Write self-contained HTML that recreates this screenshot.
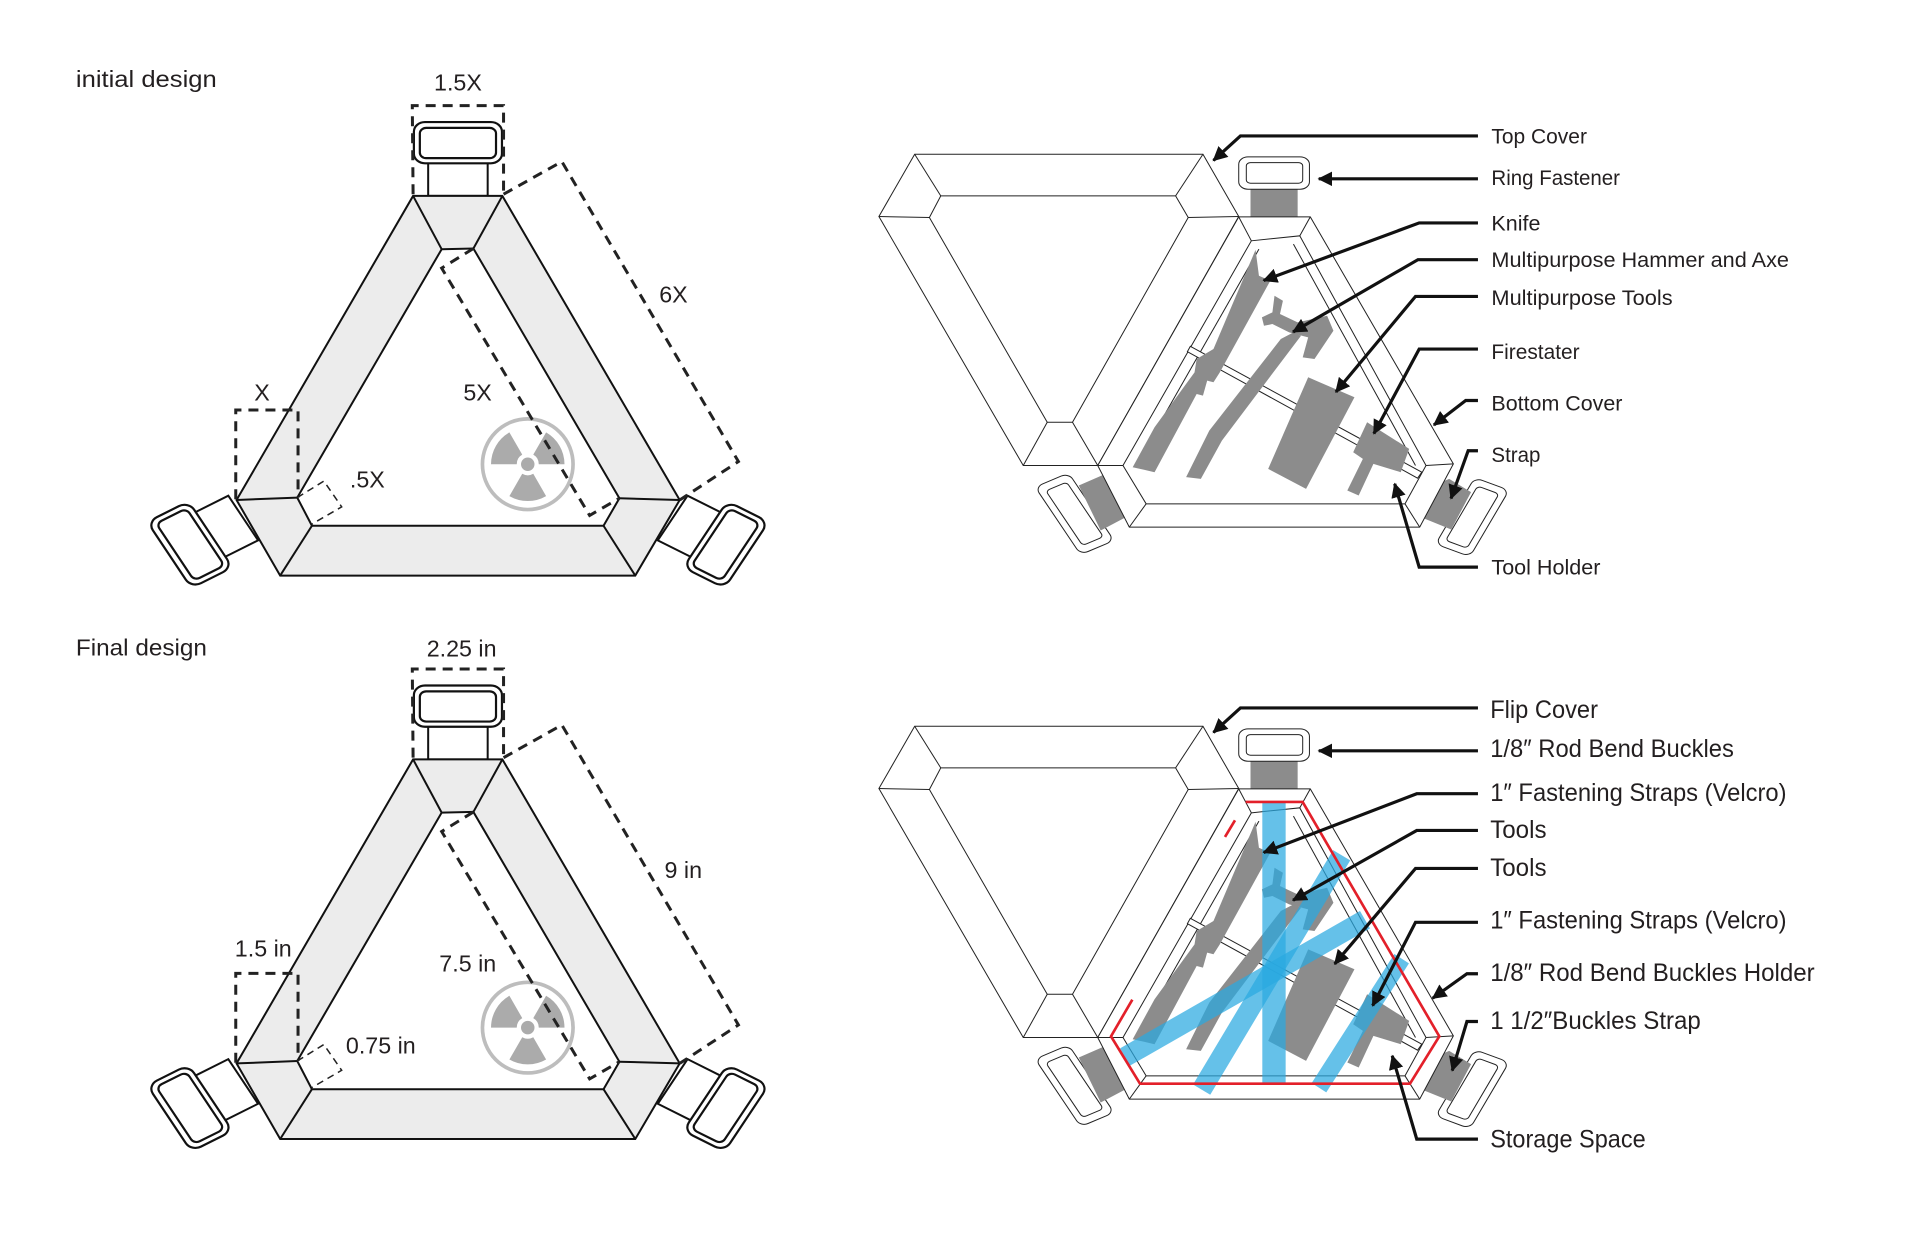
<!DOCTYPE html>
<html><head><meta charset="utf-8"><style>
html,body{margin:0;padding:0;background:#fff;width:1920px;height:1242px;overflow:hidden}
svg{display:block}
text{font-family:"Liberation Sans",sans-serif;fill:#231f20}
</style></head><body>
<svg width="1920" height="1242" viewBox="0 0 1568 1014" preserveAspectRatio="none" xmlns="http://www.w3.org/2000/svg">
<defs>
<marker id="ah" markerUnits="userSpaceOnUse" markerWidth="14" markerHeight="14" refX="11" refY="6" orient="auto">
<path d="M0,0 L12,6 L0,12 Z" fill="#111"/></marker>
<g id="ring">
<rect x="678" y="225" width="150" height="110" fill="#fff" stroke="#111" stroke-width="2" vector-effect="non-scaling-stroke"/>
<rect x="642" y="120" width="222" height="120" rx="28" fill="#fff" stroke="#111" stroke-width="2.2" vector-effect="non-scaling-stroke"/>
<rect x="657" y="137" width="192" height="88" rx="16" fill="#fff" stroke="#111" stroke-width="2.2" vector-effect="non-scaling-stroke"/>
</g>
<g id="left">
<g transform="translate(130,66) scale(0.324,0.2805)" stroke="#111" stroke-width="2" fill="none">
<use href="#ring"/>
<use href="#ring" transform="rotate(-120 753 960)"/>
<use href="#ring" transform="rotate(120 753 960)"/>
<polygon points="640,335 865,335 1312,1220 1200,1440 305,1440 195,1220" fill="#ececec" vector-effect="non-scaling-stroke"/>
<polygon points="712,490 792,488 1160,1215 1120,1295 385,1295 348,1213" fill="#fff" vector-effect="non-scaling-stroke"/>
<g>
<line x1="640" y1="335" x2="712" y2="490" vector-effect="non-scaling-stroke"/>
<line x1="865" y1="335" x2="792" y2="488" vector-effect="non-scaling-stroke"/>
<line x1="1312" y1="1220" x2="1160" y2="1215" vector-effect="non-scaling-stroke"/>
<line x1="1200" y1="1440" x2="1120" y2="1295" vector-effect="non-scaling-stroke"/>
<line x1="305" y1="1440" x2="385" y2="1295" vector-effect="non-scaling-stroke"/>
<line x1="195" y1="1220" x2="348" y2="1213" vector-effect="non-scaling-stroke"/>
</g>
</g>
<circle cx="431" cy="379" r="37" fill="#fff" stroke="#bdbdbd" stroke-width="3"/>
<g fill="#ababab">
<path d="M435.5,386.8 L446,405 A30,30 0 0 1 416,405 L426.5,386.8 A9,9 0 0 0 435.5,386.8Z"/>
<path d="M435.5,371.2 L446,353 A30,30 0 0 1 461,379 L440,379 A9,9 0 0 0 435.5,371.2Z"/>
<path d="M422,379 L401,379 A30,30 0 0 1 416,353 L426.5,371.2 A9,9 0 0 0 422,379Z"/>
<circle cx="431" cy="379" r="5.5"/>
</g>
<g transform="translate(130,66) scale(0.324,0.2805)" fill="none" stroke="#222">
<polyline points="640,330 638,72 868,72 868,330" stroke-width="3" stroke-dasharray="10 7" vector-effect="non-scaling-stroke"/>
<polyline points="868,330 1015,235 1460,1108 1312,1220" stroke-width="3" stroke-dasharray="10 7" vector-effect="non-scaling-stroke"/>
<polyline points="792,488 712,545 1085,1265 1160,1215" stroke-width="3" stroke-dasharray="10 7" vector-effect="non-scaling-stroke"/>
<polyline points="193,1218 193,958 350,958 350,1213" stroke-width="3" stroke-dasharray="10 7" vector-effect="non-scaling-stroke"/>
<polyline points="348,1213 415,1165 460,1240 385,1290" stroke-width="1.5" stroke-dasharray="7 5" vector-effect="non-scaling-stroke"/>
</g>
</g>

<g id="right">
<g transform="translate(702.3,97.4) scale(0.3437,0.2718)" stroke="#222" fill="#fff">
<g stroke-width="1" >
<polygon points="130,105 815,105 900,292 565,1040 388,1040 45,292" vector-effect="non-scaling-stroke"/>
<polygon points="192,230 750,230 780,295 505,910 445,910 165,295" vector-effect="non-scaling-stroke"/>
<polyline points="130,105 192,230" vector-effect="non-scaling-stroke"/>
<polyline points="815,105 750,230" vector-effect="non-scaling-stroke"/>
<polyline points="900,292 780,295" vector-effect="non-scaling-stroke"/>
<polyline points="565,1040 505,910" vector-effect="non-scaling-stroke"/>
<polyline points="388,1040 445,910" vector-effect="non-scaling-stroke"/>
<polyline points="45,292 165,295" vector-effect="non-scaling-stroke"/>
</g>
<rect x="928" y="180" width="112" height="115" fill="#8c8c8c" stroke="none"/>
<rect x="900" y="113" width="168" height="97" rx="22" stroke-width="1" vector-effect="non-scaling-stroke"/>
<rect x="918" y="130" width="134" height="62" rx="10" stroke-width="1" vector-effect="non-scaling-stroke"/>
<rect x="465" y="1070" width="90" height="230" rx="20" transform="rotate(-28 510 1185)" stroke-width="1" vector-effect="non-scaling-stroke"/>
<rect x="482" y="1092" width="56" height="186" rx="10" transform="rotate(-28 510 1185)" stroke-width="1" vector-effect="non-scaling-stroke"/>
<rect x="1410" y="1085" width="90" height="220" rx="20" transform="rotate(25 1455 1195)" stroke-width="1" vector-effect="non-scaling-stroke"/>
<rect x="1427" y="1105" width="56" height="180" rx="10" transform="rotate(25 1455 1195)" stroke-width="1" vector-effect="non-scaling-stroke"/>
<polygon points="520,1100 578,1068 632,1195 572,1235" fill="#8c8c8c" stroke="none"/>
<polygon points="1345,1110 1400,1080 1452,1120 1405,1232 1342,1200" fill="#8c8c8c" stroke="none"/>
<g stroke-width="1">
<polygon points="900,293 1070,293 1410,1035 1330,1225 640,1225 565,1040" vector-effect="non-scaling-stroke"/>
<polygon points="930,365 1045,350 1345,1040 1295,1155 680,1155 625,1040" vector-effect="non-scaling-stroke"/>
<polyline points="900,293 930,365" vector-effect="non-scaling-stroke"/>
<polyline points="1070,293 1045,350" vector-effect="non-scaling-stroke"/>
<polyline points="1410,1035 1345,1040" vector-effect="non-scaling-stroke"/>
<polyline points="1330,1225 1295,1155" vector-effect="non-scaling-stroke"/>
<polyline points="640,1225 680,1155" vector-effect="non-scaling-stroke"/>
<polyline points="565,1040 625,1040" vector-effect="non-scaling-stroke"/>
<polyline points="948,390 655,1040" fill="none" vector-effect="non-scaling-stroke"/>
<polyline points="1030,375 1320,1040" fill="none" vector-effect="non-scaling-stroke"/>
<polygon points="785,682 1335,1060 1325,1078 778,698" vector-effect="non-scaling-stroke"/>
</g>
<g fill="#8c8c8c" stroke="none">
<polygon points="940,392 948,470 975,485 855,760 840,790 825,785 815,830 800,825 700,1060 648,1045 700,925 795,760 800,720 840,690"/>
<polygon points="1030,640 1048,650 860,965 810,1080 775,1075 830,935 1000,660"/>
<polygon points="985,530 1005,545 998,585 1040,610 1110,590 1125,635 1080,720 1052,715 1065,655 1020,640 980,615 960,620 955,595 980,580"/>
<polygon points="1065,775 1175,835 1060,1110 970,1050"/>
<polygon points="1205,910 1305,990 1285,1060 1220,1035 1185,1130 1158,1115 1195,1020 1172,1000"/>
</g>
</g>
</g>
</defs>

<use href="#left"/>
<use href="#left" transform="translate(0,460)"/>
<use href="#right"/>
<use href="#right" transform="translate(0,467)"/>

<g transform="translate(882,620.7) scale(0.2722)">
<g stroke="#2aa9e0" stroke-opacity="0.72" fill="none">
<line x1="582" y1="125" x2="582" y2="968" stroke-width="70"/>
<line x1="135" y1="890" x2="855" y2="478" stroke-width="60"/>
<line x1="365" y1="988" x2="785" y2="285" stroke-width="60"/>
<line x1="717" y1="982" x2="965" y2="595" stroke-width="52"/>
</g>
<g stroke="#e3202a" stroke-width="8" fill="none">
<path d="M497,125 L668,125 L1078,828 L990,970 L180,970 L93,828 L157,718"/>
<path d="M465,180 L435,230"/>
</g>
</g>

<g font-size="19">
<text x="62" y="71" textLength="115" lengthAdjust="spacingAndGlyphs">initial design</text>
<text x="62" y="535" textLength="107" lengthAdjust="spacingAndGlyphs">Final design</text>
<text x="374" y="74" text-anchor="middle">1.5X</text>
<text x="550" y="247" text-anchor="middle">6X</text>
<text x="390" y="327" text-anchor="middle">5X</text>
<text x="214" y="327" text-anchor="middle">X</text>
<text x="300" y="398" text-anchor="middle">.5X</text>
<text x="377" y="536" text-anchor="middle">2.25 in</text>
<text x="558" y="717" text-anchor="middle">9 in</text>
<text x="382" y="793" text-anchor="middle">7.5 in</text>
<text x="215" y="781" text-anchor="middle">1.5 in</text>
<text x="311" y="860" text-anchor="middle">0.75 in</text>
</g>

<g stroke="#111" stroke-width="2.6" fill="none" marker-end="url(#ah)">
<polyline points="1207,111 1013,111 991,131"/>
<polyline points="1207,146 1077,146"/>
<polyline points="1207,182 1159,182 1032,229"/>
<polyline points="1207,212 1158,212 1056,271"/>
<polyline points="1207,242 1156,242 1091,320"/>
<polyline points="1207,285 1159,285 1122,354"/>
<polyline points="1207,327 1197,327 1171,347"/>
<polyline points="1207,368 1199,368 1185,407"/>
<polyline points="1207,463 1159,463 1139,395"/>
<polyline points="1207,578 1013,578 991,598"/>
<polyline points="1207,613 1077,613"/>
<polyline points="1207,648 1157,648 1032,696"/>
<polyline points="1207,678 1157,678 1056,735"/>
<polyline points="1207,709 1156,709 1090,787"/>
<polyline points="1207,753 1156,753 1121,821"/>
<polyline points="1207,795 1198,795 1170,815"/>
<polyline points="1207,834 1198,834 1186,874"/>
<polyline points="1207,930 1157,930 1137,862"/>
</g>

<g font-size="17">
<text x="1218" y="117" textLength="78" lengthAdjust="spacingAndGlyphs">Top Cover</text>
<text x="1218" y="151" textLength="105" lengthAdjust="spacingAndGlyphs">Ring Fastener</text>
<text x="1218" y="188" textLength="40" lengthAdjust="spacingAndGlyphs">Knife</text>
<text x="1218" y="218" textLength="243" lengthAdjust="spacingAndGlyphs">Multipurpose Hammer and Axe</text>
<text x="1218" y="249" textLength="148" lengthAdjust="spacingAndGlyphs">Multipurpose Tools</text>
<text x="1218" y="293" textLength="72" lengthAdjust="spacingAndGlyphs">Firestater</text>
<text x="1218" y="335" textLength="107" lengthAdjust="spacingAndGlyphs">Bottom Cover</text>
<text x="1218" y="377" textLength="40" lengthAdjust="spacingAndGlyphs">Strap</text>
<text x="1218" y="469" textLength="89" lengthAdjust="spacingAndGlyphs">Tool Holder</text>
</g>
<g font-size="20.5">
<text x="1217" y="586" textLength="88" lengthAdjust="spacingAndGlyphs">Flip Cover</text>
<text x="1217" y="618" textLength="199" lengthAdjust="spacingAndGlyphs">1/8″ Rod Bend Buckles</text>
<text x="1217" y="654" textLength="242" lengthAdjust="spacingAndGlyphs">1″ Fastening Straps (Velcro)</text>
<text x="1217" y="684" textLength="46" lengthAdjust="spacingAndGlyphs">Tools</text>
<text x="1217" y="715" textLength="46" lengthAdjust="spacingAndGlyphs">Tools</text>
<text x="1217" y="758" textLength="242" lengthAdjust="spacingAndGlyphs">1″ Fastening Straps (Velcro)</text>
<text x="1217" y="801" textLength="265" lengthAdjust="spacingAndGlyphs">1/8″ Rod Bend Buckles Holder</text>
<text x="1217" y="840" textLength="172" lengthAdjust="spacingAndGlyphs">1 1/2″Buckles Strap</text>
<text x="1217" y="937" textLength="127" lengthAdjust="spacingAndGlyphs">Storage Space</text>
</g>
</svg>
</body></html>
